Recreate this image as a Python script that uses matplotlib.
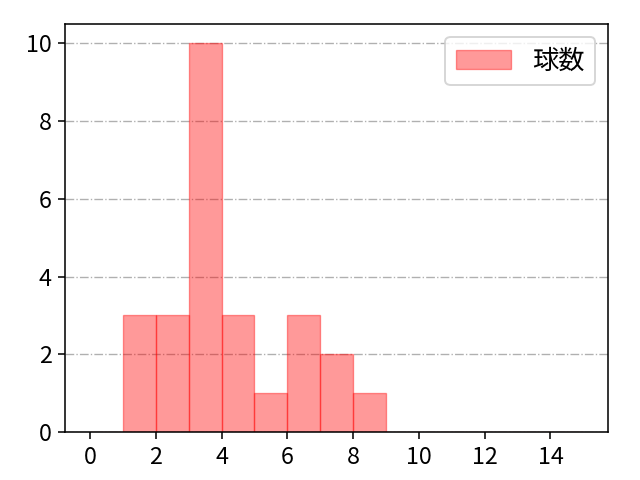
import numpy as np
import matplotlib
matplotlib.use("Agg")
import matplotlib.pyplot as plt

plt.rcParams['font.family'] = ['Noto Sans CJK JP', 'DejaVu Sans']

# histogram data (bins of width 1, 0..15)
bin_edges = list(range(0, 16))
counts = [0, 3, 3, 10, 3, 1, 3, 2, 1, 0, 0, 0, 0, 0, 0]
label = "球数"

fig, ax = plt.subplots(figsize=(6.4 / 1.4, 4.8 / 1.4), dpi=140)
fig.subplots_adjust(left=0.102, right=0.95, bottom=0.1, top=0.95)

ax.hist(bin_edges[:-1], bins=bin_edges, weights=counts,
        color="red", alpha=0.4, edgecolor="red", linewidth=0.7, label=label)
ax.set_xlim(-0.75, 15.75)
ax.set_ylim(0, 10.5)
ax.set_xticks(range(0, 15, 2))
ax.set_yticks(range(0, 11, 2))
ax.tick_params(labelsize=12)
ax.grid(axis="y", linestyle="-.", color="#b0b0b0", linewidth=0.7)
ax.set_axisbelow(True)
ax.legend(loc="upper right", fontsize=13.5, handlelength=2.1)

fig.savefig("out.png", dpi=140)
